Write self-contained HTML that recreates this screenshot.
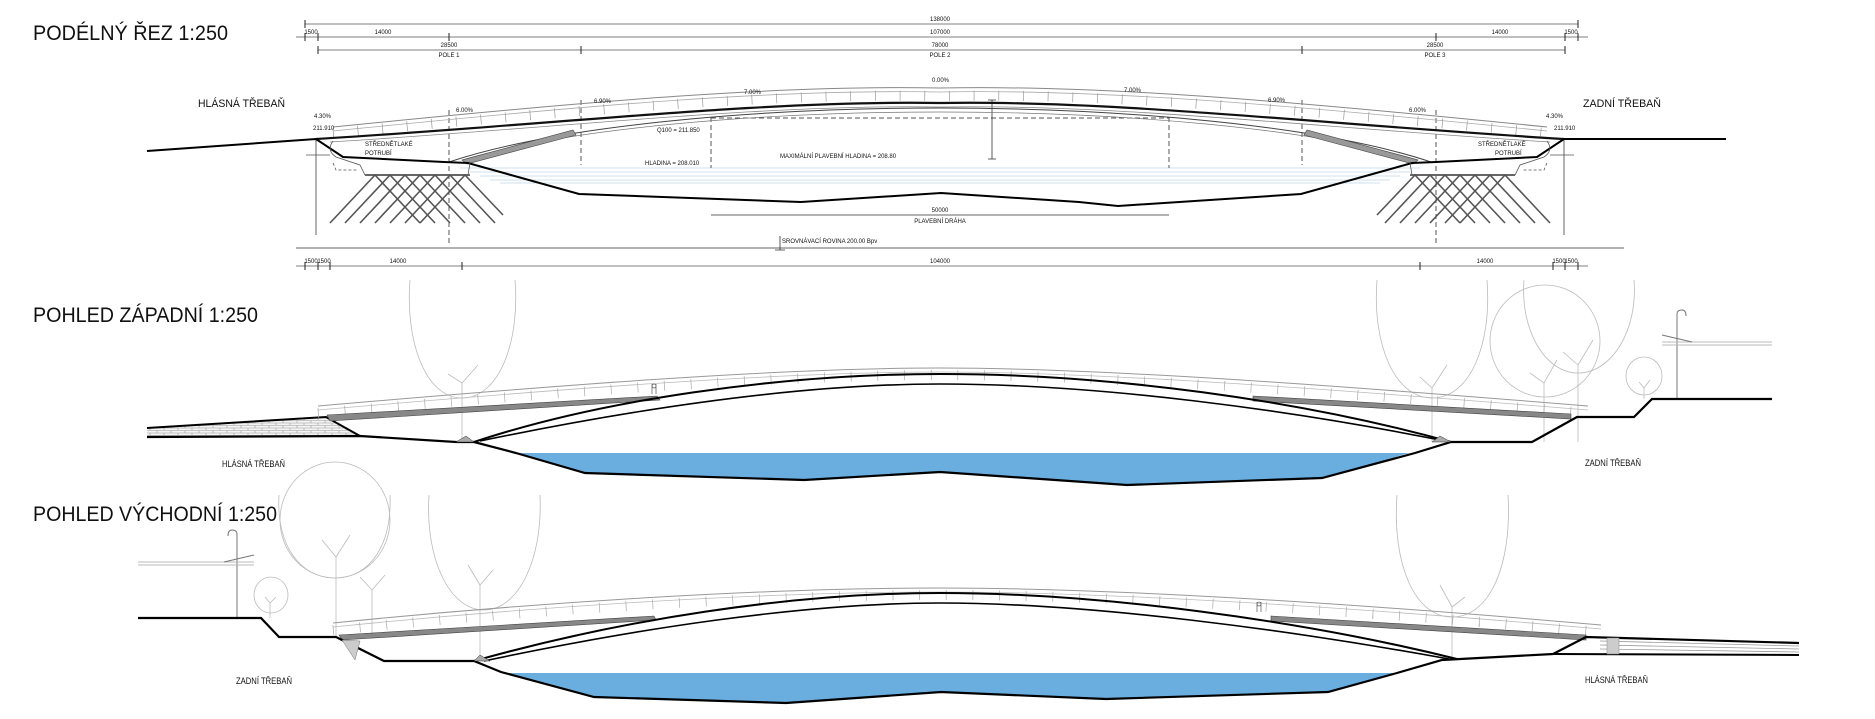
<!DOCTYPE html>
<html><head><meta charset="utf-8"><style>
html,body{margin:0;padding:0;background:#fff;}
svg{display:block;}
text{font-family:"Liberation Sans",sans-serif;fill:#111;}
.s{font-size:6px;fill:#333}
.lab{font-size:11px}
.t{font-size:21px}
</style></head><body>
<svg width="1875" height="719" viewBox="0 0 1875 719" xmlns="http://www.w3.org/2000/svg">
<defs>
<pattern id="brick" width="14" height="5" patternUnits="userSpaceOnUse">
<rect width="14" height="5" fill="#f4f4f4"/>
<path d="M0,0.5H14M0,3H14M3,0.5V3M10,3V5" stroke="#999" stroke-width="0.6"/>
</pattern>
</defs>

<!-- ============ SECTION 1 ============ -->
<text class="t" x="33" y="40" textLength="195" lengthAdjust="spacingAndGlyphs">PODÉLNÝ ŘEZ  1:250</text>
<g stroke="#999" stroke-width="1.2" fill="none">
<path d="M305,24H1578M296,37H1588M318,50H1565"/>
<path d="M296,248H1624" stroke-width="1.5"/>
<path d="M296,266H1588"/>
</g>
<g stroke="#222" stroke-width="1" fill="none">
<path d="M305,20V28M1578,20V28M305,33V41M318,33V41M449,33V41M1436,33V41M1565,33V41M1578,33V41M318,46V54M581,46V54M1302,46V54M1565,46V54"/>
<path d="M305,262V270M318,262V270M330,262V270M462,262V270M1420,262V270M1553,262V270M1565,262V270M1578,262V270"/>
</g>
<g class="s" text-anchor="middle">
<text x="940" y="21">138000</text>
<text x="311" y="34">1500</text><text x="383" y="34">14000</text><text x="940" y="34">107000</text><text x="1500" y="34">14000</text><text x="1571" y="34">1500</text>
<text x="449" y="47">28500</text><text x="449" y="57">POLE 1</text>
<text x="940" y="47">78000</text><text x="940" y="57">POLE 2</text>
<text x="1435" y="47">28500</text><text x="1435" y="57">POLE 3</text>
<text x="311" y="263">1500</text><text x="324" y="263">1500</text><text x="398" y="263">14000</text><text x="940" y="263">104000</text><text x="1485" y="263">14000</text><text x="1559" y="263">1500</text><text x="1571" y="263">1500</text>
<text x="940" y="212">50000</text><text x="940" y="223">PLAVEBNÍ DRÁHA</text>
</g>
<text class="lab" x="198" y="107" textLength="87" lengthAdjust="spacingAndGlyphs">HLÁSNÁ TŘEBAŇ</text>
<text class="lab" x="1583" y="107" textLength="78" lengthAdjust="spacingAndGlyphs">ZADNÍ TŘEBAŇ</text>

<!-- water lines -->
<g stroke="#cfe2ef" stroke-width="1">
<path d="M460,168H1420M470,172H1410M480,176H1400M490,180H1390M500,183H1380"/>
</g>
<!-- dashed lines -->
<g stroke="#555" stroke-width="1" stroke-dasharray="5,3" fill="none">
<path d="M449,110V245M581,100V165M711,117V168M1169,117V168M1302,100V165M1436,110V245M711,118H1169"/>
<path d="M316,140V235M1564,140V235" stroke-dasharray="none" stroke="#666"/>
</g>
<path d="M992,100V159M988,100H996M988,159H996" stroke="#333" stroke-width="0.8"/>
<path d="M711,215H1169" stroke="#333" stroke-width="0.8"/>
<path d="M780,236V250M775,250H785" stroke="#333" stroke-width="0.8"/>
<!-- railing -->
<path d="M333,127 C600,100 780,85 940,88 C1100,85 1280,100 1547,127" stroke="#888" stroke-width="1" fill="none"/>
<path d="M333,131 C600,104 780,89 940,92 C1100,89 1280,104 1547,131" stroke="#aaa" stroke-width="0.8" fill="none"/>
<path d="M333,133 C600,108 780,93 940,96 C1100,93 1280,108 1547,133" stroke="#999" stroke-width="10" stroke-dasharray="0.7,24" fill="none"/>
<!-- deck -->
<path d="M316,139 C550,125 760,100 940,103 C1120,100 1330,125 1564,139" stroke="#111" stroke-width="2.2" fill="none"/>
<path d="M330,142 C560,128 760,104 940,107 C1120,104 1320,128 1550,142" stroke="#888" stroke-width="0.8" fill="none"/>
<!-- arch -->
<path d="M449,162 C560,125 760,108 940,108 C1120,108 1320,125 1431,162" stroke="#444" stroke-width="1" fill="none"/>
<path d="M462,160 C570,128 760,112 940,112 C1120,112 1310,128 1418,160" stroke="#777" stroke-width="0.7" fill="none"/>
<polygon points="462,160 573,130 576,135 467,164" fill="#999" stroke="#444" stroke-width="0.6"/>
<polygon points="1418,160 1307,130 1304,135 1413,164" fill="#999" stroke="#444" stroke-width="0.6"/>
<!-- terrain -->
<path d="M147,151 L316,139 L343,157 L444,162 L468,163 L579,194 L801,202 L941,193 L1079,202 L1118,206 L1301,194 L1412,163 L1436,162 L1537,157 L1564,139 L1726,139" stroke="#000" stroke-width="2" fill="none"/>
<!-- abutments -->
<g stroke="#555" stroke-width="0.8" fill="none">
<path d="M333,141 C328,148 330,153 336,157 L360,165 L365,175 L468,175 L470,163"/>
<path d="M306,155H330M1550,155H1574"/>
<path d="M1547,141 C1552,148 1550,153 1544,157 L1520,165 L1515,175 L1412,175 L1410,163"/>
<path d="M333,163 L336,170 H358" stroke-dasharray="3,2"/><path d="M1547,163 L1544,170 H1522" stroke-dasharray="3,2"/>
</g>
<path d="M365,175H470M1410,175H1515" stroke="#666" stroke-width="2"/>
<g stroke="#555" stroke-width="1.6" fill="none">
<path d="M375,175L330,223M390,175L345,223M405,175L360,223M420,175L375,223M435,175L390,223M450,175L405,223M465,175L420,223"/>
<path d="M375,175L420,223M390,175L435,223M405,175L450,223M420,175L465,223M435,175L480,223M450,175L495,223M465,175L503,215"/>
<path d="M1505,175L1550,223M1490,175L1535,223M1475,175L1520,223M1460,175L1505,223M1445,175L1490,223M1430,175L1475,223M1415,175L1460,223"/>
<path d="M1505,175L1460,223M1490,175L1445,223M1475,175L1430,223M1460,175L1415,223M1445,175L1400,223M1430,175L1385,223M1415,175L1377,215"/>
</g>
<g class="s">
<text x="314" y="118">4.30%</text><text x="456" y="112">6.00%</text><text x="594" y="103">6.90%</text><text x="744" y="94">7.00%</text><text x="932" y="82">0.00%</text>
<text x="1124" y="92">7.00%</text><text x="1268" y="102">6.90%</text><text x="1409" y="112">6.00%</text><text x="1546" y="118">4.30%</text>
<text x="313" y="130">211.910</text><text x="1554" y="130">211.910</text>
<text x="365" y="146">STŘEDNĚTLAKÉ</text><text x="365" y="155">POTRUBÍ</text>
<text x="1478" y="146">STŘEDNĚTLAKÉ</text><text x="1495" y="155">POTRUBÍ</text>
<text x="657" y="132">Q100 = 211.850</text>
<text x="645" y="165">HLADINA = 208.010</text>
<text x="780" y="158">MAXIMÁLNÍ PLAVEBNÍ HLADINA = 208.80</text>
<text x="782" y="243">SROVNÁVACÍ ROVINA 200.00 Bpv</text>
</g>

<!-- ============ SECTION 2 ============ -->
<text class="t" x="33" y="322" textLength="225" lengthAdjust="spacingAndGlyphs">POHLED ZÁPADNÍ  1:250</text>
<g stroke="#bbb" stroke-width="0.8" fill="none">
<path d="M410,280 C405,340 425,398 462,398 C500,398 520,340 515,280"/>
<path d="M1377,280 C1372,345 1395,398 1432,398 C1470,398 1492,345 1487,280"/>
<ellipse cx="1545" cy="341" rx="55" ry="56"/>
<path d="M1524,280 C1520,330 1545,373 1578,373 C1612,373 1638,330 1634,280"/>
<ellipse cx="1644" cy="376" rx="18" ry="19"/>
<path d="M462,383V440M462,383L448,374M462,383L478,365M1432,388V442M1432,388L1420,377M1432,388L1447,365M1544,383V442M1544,383L1530,373M1544,383L1557,360M1578,365V442M1578,365L1563,352M1578,365L1593,340M1644,388V399M1644,388L1639,382M1644,388L1650,380"/>
</g>
<g stroke="#777" stroke-width="1" fill="none">
<path d="M1677,399V314 Q1677,310 1682,310 Q1686,310 1686,316"/>
<path d="M1662,342H1772M1662,345H1772" stroke="#bbb"/>
<path d="M1662,335L1692,342"/>
</g>
<polygon points="147,428 326,417 360,436 147,437" fill="url(#brick)"/>
<path d="M147,428 L326,417 L360,436" stroke="#000" stroke-width="2" fill="none"/>
<polygon points="516,453 1409,453 1322,478 1127,485 940,472 804,480 585,473" fill="#6aaee0"/>
<path d="M318,406 C560,385 780,368 940,368 C1100,368 1330,385 1588,406" stroke="#999" stroke-width="1" fill="none"/>
<path d="M318,410 C560,389 780,372 940,372 C1100,372 1330,389 1588,410" stroke="#bbb" stroke-width="0.8" fill="none"/>
<path d="M318,413 C560,392 780,375 940,375 C1100,375 1330,392 1588,413" stroke="#aaa" stroke-width="10" stroke-dasharray="0.7,26" fill="none"/>
<polygon points="327,415 657,396 660,400 330,421" fill="#888" stroke="#444" stroke-width="0.6"/>
<polygon points="1253,396 1571,414 1571,419 1253,401" fill="#888" stroke="#444" stroke-width="0.6"/>
<path d="M474,442 C600,400 780,374 940,374 C1110,374 1300,400 1451,442" stroke="#000" stroke-width="2" fill="none"/>
<path d="M480,441 C620,412 790,384 940,384 C1100,384 1290,410 1445,441" stroke="#000" stroke-width="1.6" fill="none"/>
<path d="M147,437 L360,436 L456,442 L474,442 L516,453 L585,473 L804,480 L940,472 L1127,485 L1322,478 L1415,453 L1451,442 L1532,442 L1577,417 L1634,417 L1652,399 L1772,399" stroke="#000" stroke-width="2.2" fill="none"/>
<polygon points="456,442 474,442 466,436" fill="#aaa" stroke="#333" stroke-width="0.5"/>
<polygon points="1432,442 1451,442 1440,436" fill="#aaa" stroke="#333" stroke-width="0.5"/>
<path d="M652,394V384M656,394V384M654,384a2,2 0 1,0 0.1,0" stroke="#666" stroke-width="0.8" fill="none"/>
<text class="lab" x="222" y="467" textLength="63" lengthAdjust="spacingAndGlyphs" style="font-size:9px">HLÁSNÁ TŘEBAŇ</text>
<text class="lab" x="1585" y="466" textLength="56" lengthAdjust="spacingAndGlyphs" style="font-size:9px">ZADNÍ TŘEBAŇ</text>

<!-- ============ SECTION 3 ============ -->
<text class="t" x="33" y="521" textLength="244" lengthAdjust="spacingAndGlyphs">POHLED VÝCHODNÍ  1:250</text>
<g stroke="#bbb" stroke-width="0.8" fill="none">
<ellipse cx="335" cy="520" rx="55" ry="58"/>
<path d="M279,495 C276,545 300,578 335,578 C370,578 392,545 390,495"/>
<path d="M429,495 C425,560 450,610 484,610 C518,610 543,560 540,495"/>
<ellipse cx="271" cy="595" rx="17" ry="18"/>
<path d="M1397,495 C1392,565 1415,617 1452,617 C1490,617 1512,565 1508,495"/>
<path d="M336,557V637M336,557L322,540M336,557L350,535M372,590V637M372,590L360,577M372,590L385,575M480,585V661M480,585L468,565M480,585L493,570M270,603V618M270,603L265,597M270,603L276,597M1452,607V660M1452,607L1440,585M1452,607L1465,597"/>
</g>
<g stroke="#777" stroke-width="1" fill="none">
<path d="M237,618V534 Q237,530 232,530 Q228,530 228,536"/>
<path d="M138,562H254M138,565H254" stroke="#bbb"/>
<path d="M254,555L224,562"/>
</g>
<polygon points="505,673 1397,673 1328,692 1106,699 941,692 786,703 594,697" fill="#6aaee0"/>
<path d="M333,623 C560,600 780,588 940,588 C1110,588 1350,603 1601,625" stroke="#999" stroke-width="1" fill="none"/>
<path d="M333,627 C560,604 780,592 940,592 C1110,592 1350,607 1601,629" stroke="#bbb" stroke-width="0.8" fill="none"/>
<path d="M333,630 C560,607 780,595 940,595 C1110,595 1350,610 1601,632" stroke="#aaa" stroke-width="10" stroke-dasharray="0.7,26" fill="none"/>
<polygon points="339,635 654,616 656,620 342,640" fill="#888" stroke="#444" stroke-width="0.6"/>
<polygon points="1271,616 1586,635 1586,640 1271,621" fill="#888" stroke="#444" stroke-width="0.6"/>
<path d="M474,661 C620,620 790,593 940,593 C1100,593 1300,620 1457,659" stroke="#000" stroke-width="2" fill="none"/>
<path d="M484,661 C630,630 800,603 940,603 C1090,603 1290,630 1449,659" stroke="#000" stroke-width="1.6" fill="none"/>
<path d="M138,618 L261,618 L279,637 L336,637 L384,661 L474,661 L501,672 L594,697 L786,703 L941,692 L1106,699 L1328,692 L1397,673 L1442,660 L1553,654 L1586,637 L1799,643" stroke="#000" stroke-width="2.2" fill="none"/>
<path d="M1553,654 L1799,655" stroke="#000" stroke-width="2" fill="none"/>
<g stroke="#999" stroke-width="0.8"><path d="M1600,641L1799,646M1600,645L1799,649M1600,649L1799,652"/></g>
<rect x="1607" y="638" width="12" height="16" fill="#ccc" stroke="#888" stroke-width="0.5"/>
<polygon points="474,661 490,661 480,655" fill="#aaa" stroke="#333" stroke-width="0.5"/>
<polygon points="342,640 360,641 355,660" fill="#ccc" stroke="#777" stroke-width="0.5"/>
<path d="M1257,612V602M1261,612V602M1259,602a2,2 0 1,0 0.1,0" stroke="#666" stroke-width="0.8" fill="none"/>
<text class="lab" x="236" y="684" textLength="56" lengthAdjust="spacingAndGlyphs" style="font-size:9px">ZADNÍ TŘEBAŇ</text>
<text class="lab" x="1585" y="683" textLength="63" lengthAdjust="spacingAndGlyphs" style="font-size:9px">HLÁSNÁ TŘEBAŇ</text>
</svg>
</body></html>
